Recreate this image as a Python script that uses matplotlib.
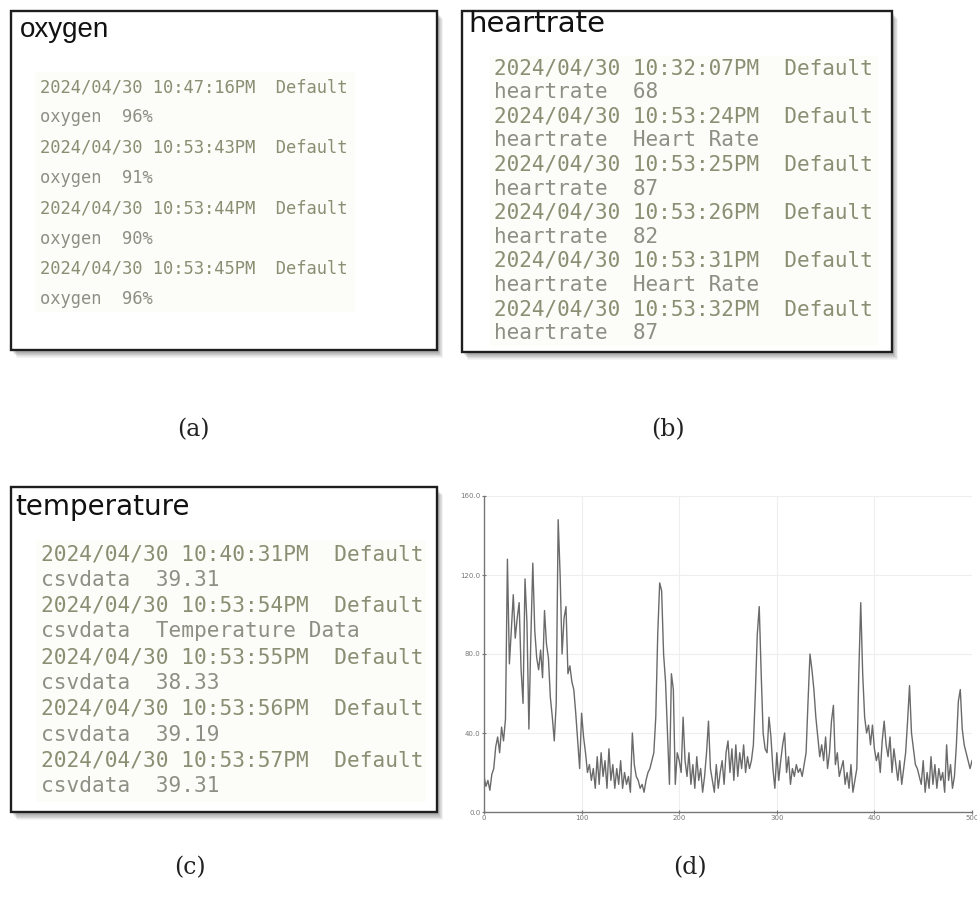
import matplotlib
matplotlib.use('Agg')
import matplotlib.pyplot as plt
from matplotlib.patches import Rectangle

# Registros exibidos em cada painel
titulo_oxigenio = 'oxygen'
linhas_oxigenio = [
    '2024/04/30 10:47:16PM  Default', 'oxygen  96%',
    '2024/04/30 10:53:43PM  Default', 'oxygen  91%',
    '2024/04/30 10:53:44PM  Default', 'oxygen  90%',
    '2024/04/30 10:53:45PM  Default', 'oxygen  96%',
]

titulo_batimento = 'heartrate'
linhas_batimento = [
    '2024/04/30 10:32:07PM  Default', 'heartrate  68',
    '2024/04/30 10:53:24PM  Default', 'heartrate  Heart Rate',
    '2024/04/30 10:53:25PM  Default', 'heartrate  87',
    '2024/04/30 10:53:26PM  Default', 'heartrate  82',
    '2024/04/30 10:53:31PM  Default', 'heartrate  Heart Rate',
    '2024/04/30 10:53:32PM  Default', 'heartrate  87',
]

titulo_temperatura = 'temperature'
linhas_temperatura = [
    '2024/04/30 10:40:31PM  Default', 'csvdata  39.31',
    '2024/04/30 10:53:54PM  Default', 'csvdata  Temperature Data',
    '2024/04/30 10:53:55PM  Default', 'csvdata  38.33',
    '2024/04/30 10:53:56PM  Default', 'csvdata  39.19',
    '2024/04/30 10:53:57PM  Default', 'csvdata  39.31',
]

# Sinal do painel (d): uma amostra a cada 2 unidades, de 0 a 500
passo_sinal = 2
valores_sinal = [
    18, 13, 16, 11, 19, 22, 33, 38, 30, 43, 36, 47, 128, 75, 92, 110, 88, 98, 106, 72,
    55, 118, 96, 42, 88, 126, 92, 78, 72, 82, 68, 102, 85, 78, 58, 48, 36, 55, 148, 120,
    80, 98, 104, 70, 74, 66, 62, 50, 36, 22, 50, 38, 30, 20, 24, 16, 22, 12, 28, 14,
    30, 18, 26, 12, 32, 16, 24, 12, 22, 14, 26, 12, 20, 14, 18, 10, 40, 24, 18, 16,
    12, 14, 10, 16, 20, 22, 26, 30, 48, 90, 116, 112, 80, 66, 40, 14, 70, 62, 14, 30,
    26, 20, 48, 26, 18, 30, 14, 24, 12, 28, 16, 22, 10, 18, 30, 46, 22, 16, 10, 24,
    12, 20, 26, 14, 30, 36, 20, 32, 16, 34, 18, 30, 22, 34, 20, 28, 22, 26, 34, 60,
    90, 104, 70, 40, 32, 30, 48, 38, 22, 12, 30, 16, 26, 34, 40, 20, 28, 14, 22, 18,
    24, 20, 22, 18, 24, 30, 56, 80, 72, 62, 48, 38, 28, 34, 26, 38, 22, 30, 46, 54,
    24, 30, 18, 22, 26, 14, 20, 12, 24, 10, 16, 22, 70, 106, 70, 48, 40, 44, 34, 44,
    32, 26, 30, 20, 36, 46, 34, 28, 38, 20, 32, 24, 16, 26, 14, 22, 30, 46, 64, 40,
    32, 24, 22, 18, 14, 26, 10, 20, 12, 28, 14, 24, 12, 22, 16, 20, 10, 34, 16, 24,
    12, 18, 34, 56, 62, 42, 34, 30, 26, 22, 26,
]
x_sinal = [i * passo_sinal for i in range(len(valores_sinal))]
ticks_x = [0, 100, 200, 300, 400, 500]
ticks_y = [0, 40, 80, 120, 160]

LARGURA, ALTURA = 978, 905
fig = plt.figure(figsize=(LARGURA / 100, ALTURA / 100), dpi=100)
fig.patch.set_facecolor('white')

# Eixo de fundo em pixels (origem no canto superior esquerdo)
fundo = fig.add_axes([0, 0, 1, 1])
fundo.set_xlim(0, LARGURA)
fundo.set_ylim(ALTURA, 0)
fundo.axis('off')

cor_texto = '#8a8e72'


def caixa(x0, y0, x1, y1):
    """Desenha a moldura com sombra difusa à direita e embaixo."""
    for i in range(8, 0, -1):
        fundo.add_patch(Rectangle((x0 + 1 + i * 0.6, y0 + 2 + i * 0.7), x1 - x0, y1 - y0,
                                  facecolor='#000000', edgecolor='none',
                                  alpha=0.045, zorder=1))
    fundo.add_patch(Rectangle((x0, y0), x1 - x0, y1 - y0, facecolor='white',
                              edgecolor='#1e1e1e', linewidth=1.7, zorder=2))


def registros(linhas, x, y_base, espaco, tamanho, fundo_txt):
    fundo.add_patch(Rectangle((fundo_txt[0], fundo_txt[1]), fundo_txt[2] - fundo_txt[0],
                              fundo_txt[3] - fundo_txt[1], facecolor='#fcfcf8',
                              edgecolor='none', zorder=2.5))
    for i, linha in enumerate(linhas):
        cor = cor_texto if i % 2 == 0 else '#8e8f84'
        fundo.text(x, y_base + i * espaco, linha, family='DejaVu Sans Mono',
                   fontsize=tamanho, color=cor, va='baseline', ha='left', zorder=3)


# (a) oxigênio
caixa(11, 11, 437, 350)
fundo.text(20, 37, titulo_oxigenio, family='Liberation Sans', fontsize=20,
           color='#111111', va='baseline', zorder=3)
registros(linhas_oxigenio, 40, 92, 30.3, 12.3, (35, 72, 355, 312))

# (b) batimentos
caixa(462, 11, 892, 352)
fundo.text(468, 32, titulo_batimento, family='DejaVu Sans', fontsize=21,
           color='#111111', va='baseline', zorder=3)
registros(linhas_batimento, 494, 74, 24.1, 15.1, (490, 56, 878, 346))

# (c) temperatura
caixa(11, 487, 437, 812)
fundo.text(15, 515, titulo_temperatura, family='DejaVu Sans', fontsize=20,
           color='#111111', va='baseline', zorder=3)
registros(linhas_temperatura, 41, 560, 25.8, 15.2, (36, 540, 426, 802))

# Rótulos dos painéis
for rotulo, cx, cy in [('(a)', 193, 430), ('(b)', 668, 430),
                       ('(c)', 190, 868), ('(d)', 690, 868)]:
    fundo.text(cx, cy, rotulo, family='DejaVu Serif', fontsize=17,
               color='#222222', ha='center', va='center')

# (d) gráfico do sinal
ax = fig.add_axes([484 / LARGURA, 1 - 812 / ALTURA, (972 - 484) / LARGURA, (812 - 496) / ALTURA])
ax.plot(x_sinal, valores_sinal, color='#6a6a6a', linewidth=1.0)
ax.set_xlim(0, 500)
ax.set_ylim(0, 160)
ax.set_xticks(ticks_x)
ax.set_yticks(ticks_y)
ax.set_xticklabels([str(t) for t in ticks_x])
ax.set_yticklabels([f'{t:.1f}' for t in ticks_y])
ax.grid(True, color='#eeeeee', linewidth=0.8)
ax.set_axisbelow(True)
for lado in ['top', 'right']:
    ax.spines[lado].set_visible(False)
for lado in ['left', 'bottom']:
    ax.spines[lado].set_color('#777777')
    ax.spines[lado].set_linewidth(1.0)
ax.tick_params(labelsize=5, colors='#777777', length=3, direction='inout', pad=1)
ax.patch.set_alpha(0)

plt.savefig('out.png', dpi=100)
